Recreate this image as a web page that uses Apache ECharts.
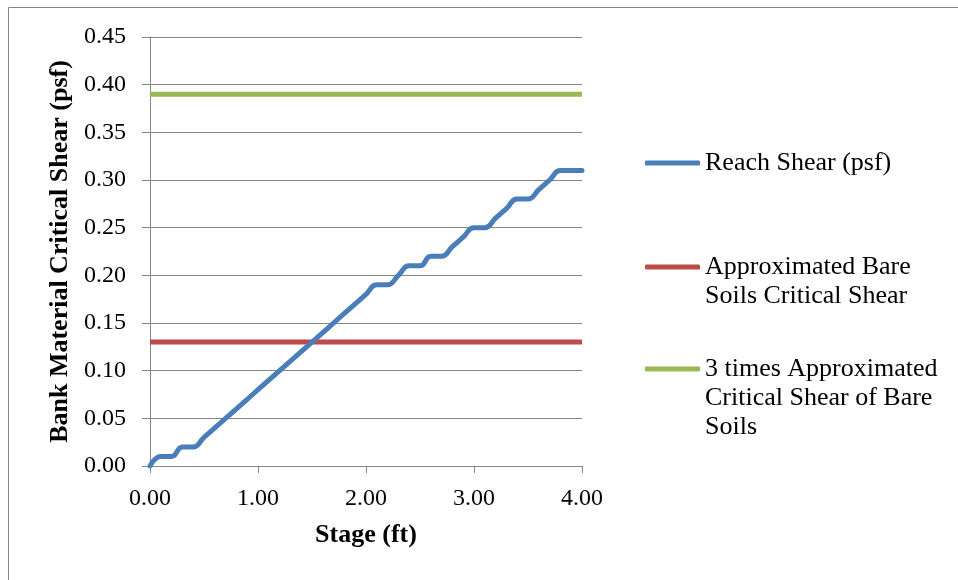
<!DOCTYPE html>
<html>
<head>
<meta charset="utf-8">
<script src="https://cdn.jsdelivr.net/npm/echarts@6/dist/echarts.min.js"></script>
<style>html,body{margin:0;padding:0;background:#fff}#c{width:958px;height:580px}</style>
</head>
<body>
<div id="c"></div>
<script>
// Data
const stage = [0.0,0.1,0.2,0.3,0.4,0.5,0.6,0.7,0.8,0.9,1.0,1.1,1.2,1.3,1.4,1.5,1.6,1.7,1.8,1.9,2.0,2.1,2.2,2.3,2.4,2.5,2.6,2.7,2.8,2.9,3.0,3.1,3.2,3.3,3.4,3.5,3.6,3.7,3.8,3.9,4.0];
const reachShear = [0.00,0.01,0.01,0.02,0.02,0.03,0.04,0.05,0.06,0.07,0.08,0.09,0.10,0.11,0.12,0.13,0.14,0.15,0.16,0.17,0.18,0.19,0.19,0.20,0.21,0.21,0.22,0.22,0.23,0.24,0.25,0.25,0.26,0.27,0.28,0.28,0.29,0.30,0.31,0.31,0.31];
const limitStage = [0.0, 4.0];
const bareSoilCritical = [0.13, 0.13];
const threeTimesCritical = [0.39, 0.39];
const seriesNames = ['Reach Shear (psf)', 'Approximated Bare\nSoils Critical Shear', '3 times Approximated\nCritical Shear of Bare\nSoils'];
const xTicks = ['0.00','1.00','2.00','3.00','4.00'];
const colors = ['#4A7EBB', '#BE4B48', '#98B954'];

const FONT = '"Liberation Serif","Times New Roman",serif';
const GRID = '#868686';
const LH = 29;

function pairs(xs, ys){ return xs.map((x,i)=>[x, ys[i]]); }

const chart = echarts.init(document.getElementById('c'), null, {renderer:'canvas'});

function legendFor(i, iconCenter){
  const lines = seriesNames[i].split('\n').length;
  const blanks = lines - 1;              // blank lines above so that first line sits at the icon
  const total = lines + blanks;
  return {
    show: true, left: 645, top: iconCenter - total * LH / 2, orient: 'vertical',
    padding: 0,
    data: [seriesNames[i]],
    formatter: name => '\n'.repeat(blanks) + name,
    icon: 'roundRect', itemWidth: 55, itemHeight: 5, itemGap: 0,
    selectedMode: false,
    textStyle: {fontFamily: FONT, fontSize: 26, color: '#000', lineHeight: LH}
  };
}

chart.setOption({
  animation: false,
  backgroundColor: '#fff',
  color: colors,
  graphic: [{
    type: 'rect', shape: {x: 8.5, y: 7.5, width: 1000, height: 1000},
    style: {fill: 'none', stroke: GRID, lineWidth: 1}, silent: true, z: -1
  }],
  grid: {left: 150, right: 376, top: 37, bottom: 114, containLabel: false},
  legend: [legendFor(0, 163), legendFor(1, 267), legendFor(2, 369)],
  xAxis: {
    type: 'value', min: 0, max: 4, interval: 1,
    name: 'Stage (ft)', nameLocation: 'middle', nameGap: 56,
    nameTextStyle: {fontFamily: FONT, fontSize: 26, fontWeight: 'bold', color: '#000'},
    axisLine: {show: true, onZero: false, lineStyle: {color: GRID, width: 1}},
    axisTick: {show: true, length: 7, inside: false, lineStyle: {color: GRID}},
    axisLabel: {fontFamily: FONT, fontSize: 24, color: '#000', margin: 21,
      formatter: v => xTicks[Math.round(v)]},
    splitLine: {show: false}
  },
  yAxis: {
    type: 'value', min: 0, max: 0.45, interval: 0.05,
    name: 'Bank Material Critical Shear (psf)', nameLocation: 'middle', nameGap: 77, nameRotate: 90,
    nameTextStyle: {fontFamily: FONT, fontSize: 26, fontWeight: 'bold', color: '#000'},
    axisLine: {show: true, lineStyle: {color: GRID, width: 1}},
    axisTick: {show: true, length: 8, inside: false, lineStyle: {color: GRID}},
    axisLabel: {fontFamily: FONT, fontSize: 24, color: '#000', margin: 24,
      formatter: v => v.toFixed(2)},
    splitLine: {show: true, lineStyle: {color: GRID, width: 1}}
  },
  series: [
    {name: seriesNames[0], type: 'line', data: pairs(stage, reachShear), symbol: 'none', smooth: 0.5,
      lineStyle: {width: 5, color: colors[0], cap: 'round', join: 'round'}, z: 3},
    {name: seriesNames[1], type: 'line', data: pairs(limitStage, bareSoilCritical), symbol: 'none',
      lineStyle: {width: 5, color: colors[1]}, z: 2},
    {name: seriesNames[2], type: 'line', data: pairs(limitStage, threeTimesCritical), symbol: 'none',
      lineStyle: {width: 5, color: colors[2]}, z: 2}
  ]
});
</script>
</body>
</html>
